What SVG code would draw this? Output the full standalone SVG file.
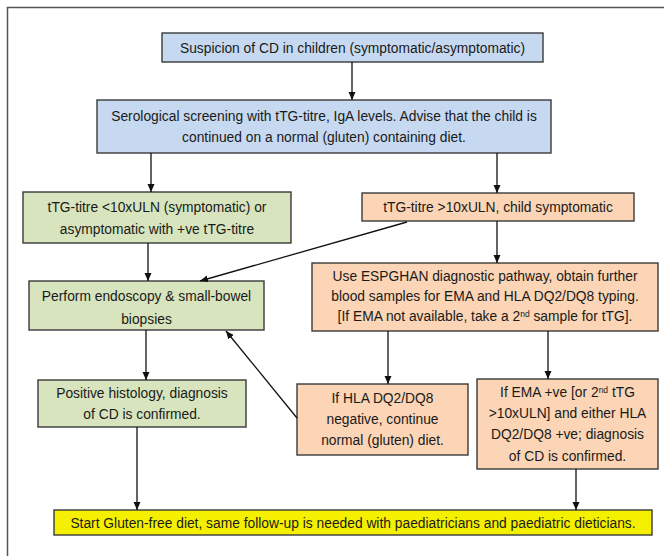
<svg xmlns="http://www.w3.org/2000/svg" width="664" height="556" viewBox="0 0 664 556">
<style>
  .box { stroke: #3a3a3a; stroke-width: 1.4; }
  .blue { fill: #c6d9f1; }
  .green { fill: #d7e4bd; }
  .orange { fill: #fbd5b5; }
  .yellow { fill: #f5f000; }
  text { font-family: "Liberation Sans", Arial, sans-serif; font-size: 13.8px; fill: #1a1a1a; text-anchor: middle; }
  .sup { font-size: 8.5px; }
  .conn line { stroke: #111; stroke-width: 1.3; fill: none; marker-end: url(#ah); }
</style>
<defs>
  <marker id="ah" markerWidth="9" markerHeight="8" refX="8" refY="3.5" orient="auto" markerUnits="userSpaceOnUse">
    <path d="M0,0 L8,3.5 L0,7 z" fill="#111"/>
  </marker>
</defs>
<rect width="664" height="556" fill="#ffffff"/>
<path d="M7.5,556 V7.5 H664" fill="none" stroke="#555" stroke-width="1.5"/>

<g id="n1">
  <rect class="box blue" x="162" y="33" width="381" height="29"/>
  <text x="352.5" y="52.5">Suspicion of CD in children (symptomatic/asymptomatic)</text>
</g>
<g id="n2">
  <rect class="box blue" x="97" y="100" width="454" height="53"/>
  <text x="324" y="121">Serological screening with tTG-titre, IgA levels. Advise that the child is</text>
  <text x="324" y="142">continued on a normal (gluten) containing diet.</text>
</g>
<g id="n3">
  <rect class="box green" x="23" y="192" width="268" height="51"/>
  <text x="157" y="212">tTG-titre &lt;10xULN (symptomatic) or</text>
  <text x="157" y="234">asymptomatic with +ve tTG-titre</text>
</g>
<g id="n4">
  <rect class="box orange" x="362" y="193" width="272" height="28"/>
  <text x="498" y="212">tTG-titre &gt;10xULN, child symptomatic</text>
</g>
<g id="n5">
  <rect class="box green" x="29" y="281" width="235" height="49"/>
  <text x="146.5" y="301">Perform endoscopy &amp; small-bowel</text>
  <text x="146.5" y="324">biopsies</text>
</g>
<g id="n6">
  <rect class="box orange" x="312" y="263" width="346" height="68"/>
  <text x="485" y="281">Use ESPGHAN diagnostic pathway, obtain further</text>
  <text x="485" y="301">blood samples for EMA and HLA DQ2/DQ8 typing.</text>
  <text x="485" y="321">[If EMA not available, take a 2<tspan class="sup" dy="-4.5">nd</tspan><tspan dy="4.5"> sample for tTG].</tspan></text>
</g>
<g id="n7">
  <rect class="box green" x="38" y="380" width="208" height="47"/>
  <text x="142" y="398">Positive histology, diagnosis</text>
  <text x="142" y="419">of CD is confirmed.</text>
</g>
<g id="n8">
  <rect class="box orange" x="297" y="384" width="171" height="71"/>
  <text x="382.5" y="403">If HLA DQ2/DQ8</text>
  <text x="382.5" y="424">negative, continue</text>
  <text x="382.5" y="445">normal (gluten) diet.</text>
</g>
<g id="n9">
  <rect class="box orange" x="477" y="379" width="181" height="90"/>
  <text x="567.5" y="397">If EMA +ve [or 2<tspan class="sup" dy="-4.5">nd</tspan><tspan dy="4.5"> tTG</tspan></text>
  <text x="567.5" y="418">&gt;10xULN] and either HLA</text>
  <text x="567.5" y="439">DQ2/DQ8 +ve; diagnosis</text>
  <text x="567.5" y="461">of CD is confirmed.</text>
</g>
<g id="n10">
  <rect class="box yellow" x="54" y="510" width="598" height="25"/>
  <text x="353" y="527.5">Start Gluten-free diet, same follow-up is needed with paediatricians and paediatric dieticians.</text>
</g>

<g id="connectors" class="conn">
  <line x1="352" y1="62" x2="352" y2="100"/>
  <line x1="151" y1="153" x2="151" y2="192"/>
  <line x1="497" y1="153" x2="497" y2="193"/>
  <line x1="148" y1="243" x2="148" y2="281"/>
  <line x1="497" y1="221" x2="497" y2="263"/>
  <line x1="407" y1="222" x2="200" y2="281"/>
  <line x1="146" y1="330" x2="146" y2="380"/>
  <line x1="388" y1="331" x2="388" y2="384"/>
  <line x1="548" y1="331" x2="548" y2="379"/>
  <line x1="297" y1="418" x2="226" y2="331"/>
  <line x1="137" y1="427" x2="137" y2="510"/>
  <line x1="576" y1="469" x2="576" y2="510"/>
</g>
</svg>
